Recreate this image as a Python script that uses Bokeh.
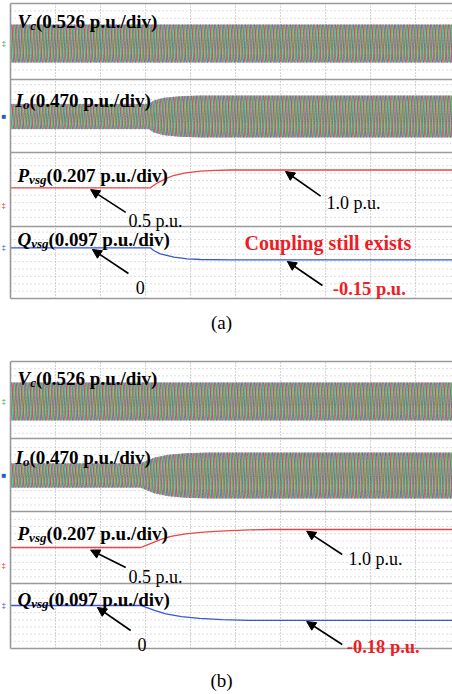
import numpy as np
from bokeh.plotting import figure
from bokeh.models import Range1d, Label, Arrow, NormalHead
from bokeh.layouts import column
from bokeh.embed import file_html
from bokeh.resources import INLINE

# ---------------- data ----------------
T_END = 9.82            # visible time span in divisions
CYCLES_PER_DIV = 10     # 50 Hz at 200 ms/div

# envelopes of the three-phase waveforms (p.u.)
vc_env_t = [0.0, 9.82]
vc_env_amp = [1.0, 1.0]

io_env_t_a = [0.0, 3.07, 3.18, 3.40, 3.78, 4.22, 9.82]
io_env_amp_a = [0.60, 0.60, 0.76, 0.89, 0.97, 1.00, 1.00]
io_env_t_b = [0.0, 2.89, 3.00, 3.20, 3.50, 3.90, 4.40, 9.82]
io_env_amp_b = [0.53, 0.53, 0.62, 0.78, 0.90, 0.97, 1.00, 1.00]

# active power (p.u.)
p_t_a = [0.0, 3.11, 3.16, 3.27, 3.44, 3.62, 3.89, 4.22, 4.56, 4.89, 9.82]
p_val_a = [0.5, 0.5, 0.55, 0.64, 0.75, 0.845, 0.92, 0.966, 0.99, 1.0, 1.0]
p_t_b = [0.0, 2.89, 3.00, 3.11, 3.33, 3.56, 3.89, 4.22, 4.56, 4.89, 5.33, 5.78, 9.82]
p_val_b = [0.5, 0.5, 0.55, 0.61, 0.72, 0.81, 0.88, 0.92, 0.95, 0.97, 0.99, 1.0, 1.0]

# reactive power (p.u.)
q_t_a = [0.0, 3.11, 3.18, 3.33, 3.63, 3.93, 4.22, 4.89, 9.82]
q_val_a = [0.0, 0.0, -0.034, -0.075, -0.117, -0.138, -0.146, -0.15, -0.15]
q_t_b = [0.0, 2.89, 3.00, 3.20, 3.45, 3.80, 4.20, 4.70, 5.30, 9.82]
q_val_b = [0.0, 0.0, -0.02, -0.06, -0.10, -0.135, -0.155, -0.17, -0.18, -0.18]

ch_names = ["V", "I", "P", "Q"]
ch_subs = ["c", "o", "vsg", "vsg"]
ch_scales = ["(0.526 p.u./div)", "(0.470 p.u./div)", "(0.207 p.u./div)", "(0.097 p.u./div)"]

# ---------------- style ----------------
FONT = "Liberation Serif"
PHASE_COLORS = ["#3d5be8", "#e5403c", "#2fae3a"]
P_COLOR = "#e8464a"
Q_COLOR = "#3557d6"
RED_TXT = "#ee1c24"
GRID_C = "#bcbcbc"
SEP_C = "#9a9a9a"
PX_LEFT = 10            # left border pixel
PX_PER_DIV = 45


def chan_range(frame_top, frame_bot, zero_px, px_per_unit):
    return Range1d(-(frame_bot - zero_px) / px_per_unit, (zero_px - frame_top) / px_per_unit)


def three_phase(env_t, env_amp):
    t = np.linspace(0, T_END, int(T_END * CYCLES_PER_DIV * 26))
    amp = np.interp(t, env_t, env_amp)
    return t, [amp * np.sin(2 * np.pi * CYCLES_PER_DIV * t - k * 2 * np.pi / 3) for k in range(3)]


def add_name(p, rn, x, y, main, sub, rest, w_main, w_sub):
    common = dict(x=x, y=y, y_range_name=rn, text_font=FONT, text_color="black",
                  text_baseline="alphabetic")
    p.add_layout(Label(text=main, text_font_style="bold italic", text_font_size="19px", **common))
    p.add_layout(Label(text=sub, text_font_style="bold italic", text_font_size="13px",
                       x_offset=w_main, y_offset=-4, **common))
    p.add_layout(Label(text=rest, text_font_style="bold", text_font_size="19px",
                       x_offset=w_main + w_sub, **common))


def arrow(p, rn, x0, y0, x1, y1):
    p.add_layout(Arrow(end=NormalHead(size=9, line_color="black", fill_color="black", line_width=1),
                       x_start=x0, y_start=y0, x_end=x1, y_end=y1, line_width=1.6,
                       line_color="black", y_range_name=rn))


def text(p, rn, x, y, s, color="black", bold=False, size="18px"):
    p.add_layout(Label(x=x, y=y, y_range_name=rn, text=s, text_font=FONT,
                       text_font_size=size, text_color=color,
                       text_font_style="bold" if bold else "normal", text_baseline="alphabetic"))


def build_panel(frame_top, frame_bot, box_top, box_bot, sep_px, chans,
                io_env, p_data, q_data, name_pos):
    # main y axis: scope divisions, 0 at the bottom border, 8 at the top border
    def div(py):
        return (box_bot - py) * 8.0 / (box_bot - box_top)

    p = figure(width=452, height=frame_bot - frame_top,
               x_range=Range1d(-PX_LEFT / PX_PER_DIV, T_END),
               y_range=Range1d(div(frame_bot), div(frame_top)),
               output_backend="svg", toolbar_location=None, title=None,
               x_axis_location=None, y_axis_location=None,
               min_border_left=0, min_border_right=0, min_border_top=0, min_border_bottom=0)
    p.outline_line_color = None
    p.background_fill_color = "white"
    p.border_fill_color = "white"
    p.xgrid.visible = False
    p.ygrid.visible = False
    p.extra_y_ranges = {k: chan_range(frame_top, frame_bot, z, s) for k, (z, s) in chans.items()}

    seps = [div(s) for s in sep_px]
    # dotted grid
    hticks = [0.2 * i for i in range(1, 40) if min(abs(0.2 * i - s) for s in seps) > 0.12]
    p.segment(x0=[0] * len(hticks), x1=[T_END] * len(hticks), y0=hticks, y1=hticks,
              line_color=GRID_C, line_dash="1 3", line_width=1)
    vt = list(range(1, 10))
    p.segment(x0=vt, x1=vt, y0=[0] * 9, y1=[8] * 9, line_color="#a8a8a8", line_dash="1 2",
              line_width=1)

    # waveforms
    t, ph = three_phase(vc_env_t, vc_env_amp)
    for k in range(3):
        p.line(t, ph[k], y_range_name="vc", line_color=PHASE_COLORS[k], line_width=1,
               line_alpha=0.85)
    t, ph = three_phase(*io_env)
    for k in range(3):
        p.line(t, ph[k], y_range_name="io", line_color=PHASE_COLORS[k], line_width=1,
               line_alpha=0.85)
    p.line(p_data[0], p_data[1], y_range_name="p", line_color=P_COLOR, line_width=1.3)
    p.line(q_data[0], q_data[1], y_range_name="q", line_color=Q_COLOR, line_width=1.3)

    # separators and box (left, top, bottom)
    hl = seps + [0.0, 8.0]
    p.segment(x0=[0] * len(hl), x1=[T_END + 1] * len(hl), y0=hl, y1=hl,
              line_color=SEP_C, line_width=1.6)
    p.segment(x0=[0], x1=[0], y0=[0], y1=[8], line_color=SEP_C, line_width=1.6)

    # channel names
    widths = [(12.7, 5.8), (7.4, 6.5), (11.6, 17.3), (13.7, 17.3)]
    for i, rn in enumerate(["vc", "io", "p", "q"]):
        add_name(p, rn, name_pos[i][0], name_pos[i][1], ch_names[i], ch_subs[i], ch_scales[i],
                 *widths[i])

    # left channel markers (at each channel's zero level)
    marks = [("vc", "‡", "#2aa84a"), ("io", "■", "#1f5fbf"),
             ("p", "‡", "#e03030"), ("q", "‡", "#3050d0")]
    for rn, s, c in marks:
        p.add_layout(Label(x=-0.2, y=0.0, y_range_name=rn, text=s,
                           text_font_size="8px", text_color=c, text_baseline="middle"))
    return p


def caption(txt, height, cy):
    c = figure(width=452, height=height, x_range=Range1d(0, 452), y_range=Range1d(0, height),
               output_backend="svg", toolbar_location=None, title=None,
               x_axis_location=None, y_axis_location=None,
               min_border_left=0, min_border_right=0, min_border_top=0, min_border_bottom=0)
    c.outline_line_color = None
    c.xgrid.visible = False
    c.ygrid.visible = False
    c.add_layout(Label(x=221, y=height - cy, text=txt, text_font=FONT, text_font_size="19px",
                       text_align="center", text_baseline="middle", text_color="black"))
    return c


# ---------------- panel (a) ----------------
pa = build_panel(frame_top=0, frame_bot=300, box_top=3, box_bot=298, sep_px=[79, 152, 226],
                 chans={"vc": (43, 19), "io": (116, 21), "p": (205.1, 35.6), "q": (247.3, 80)},
                 io_env=(io_env_t_a, io_env_amp_a), p_data=(p_t_a, p_val_a), q_data=(q_t_a, q_val_a),
                 name_pos=[(0.156, 1.158), (0.111, 0.762), (0.156, 0.846), (0.156, 0.11)])
arrow(pa, "p", 2.56, -0.19, 1.78, 0.45)
text(pa, "p", 2.62, -0.44, "0.5 p.u.")
arrow(pa, "p", 6.89, 0.264, 6.11, 0.958)
text(pa, "p", 7.02, 0.059, "1.0 p.u.")
arrow(pa, "q", 2.62, -0.321, 1.82, -0.021)
text(pa, "q", 2.78, -0.496, "0")
text(pa, "q", 5.2, 0.066, "Coupling still exists", color=RED_TXT, bold=True, size="20px")
arrow(pa, "q", 6.93, -0.471, 6.15, -0.171)
text(pa, "q", 7.16, -0.509, "-0.15 p.u.", color=RED_TXT, bold=True, size="18.5px")

cap_a = caption("(a)", 59, 22)

# ---------------- panel (b) ----------------
pb = build_panel(frame_top=359, frame_bot=656, box_top=361, box_bot=648, sep_px=[438, 511, 583],
                 chans={"vc": (401, 19), "io": (475, 23), "p": (565, 36), "q": (605, 83)},
                 io_env=(io_env_t_b, io_env_amp_b), p_data=(p_t_b, p_val_b), q_data=(q_t_b, q_val_b),
                 name_pos=[(0.156, 1.21), (0.111, 0.783), (0.156, 0.889), (0.156, 0.072)])
arrow(pb, "p", 2.56, -0.056, 1.78, 0.43)
text(pb, "p", 2.62, -0.333, "0.5 p.u.")
arrow(pb, "p", 7.37, 0.306, 6.58, 0.953)
text(pb, "p", 7.51, 0.167, "1.0 p.u.")
arrow(pb, "q", 2.67, -0.301, 1.93, -0.024)
text(pb, "q", 2.82, -0.47, "0")
arrow(pb, "q", 7.37, -0.47, 6.58, -0.193)
text(pb, "q", 7.47, -0.505, "-0.18 p.u.", color=RED_TXT, bold=True, size="18.5px")

cap_b = caption("(b)", 38, 24)

layout = column(pa, cap_a, pb, cap_b, spacing=0)
open("out.html", "w").write(file_html(layout, INLINE))
